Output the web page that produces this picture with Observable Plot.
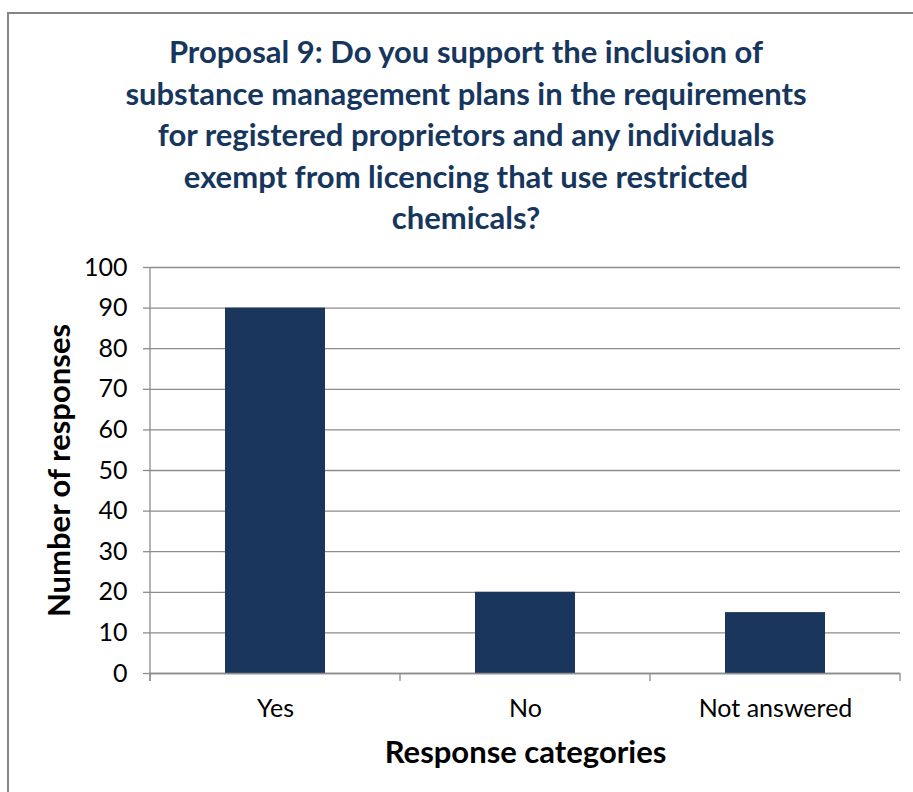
<!DOCTYPE html>
<html>
<head>
<meta charset="utf-8">
<script src="https://cdn.jsdelivr.net/npm/d3@7"></script>
<script src="https://cdn.jsdelivr.net/npm/@observablehq/plot@0.6"></script>
<style>
  html, body { margin: 0; padding: 0; background: #fff; }
  #page { position: relative; width: 913px; height: 792px; overflow: hidden; background: #fff; }
  #border { position: absolute; left: 7px; top: 12px; width: 1000px; height: 1000px;
            border-top: 2px solid #868686; border-left: 2px solid #868686; }
  #title { position: absolute; left: 16px; top: 31px; width: 900px; text-align: center;
           font-family: Lato, "Open Sans", sans-serif; font-weight: bold; font-size: 31px;
           line-height: 41.5px; color: #17365d; white-space: nowrap; }
  #chart { position: absolute; left: 0; top: 240px; }
</style>
</head>
<body>
<div id="page">
  <div id="border"></div>
  <div id="title">Proposal 9: Do you support the inclusion of<br>substance management plans in the requirements<br>for registered proprietors and any individuals<br>exempt from licencing that use restricted<br>chemicals?</div>
  <div id="chart"></div>
</div>
<script>
const categories = ["Yes", "No", "Not answered"];
const responses = [90, 20, 15];
const yTicks = [0, 10, 20, 30, 40, 50, 60, 70, 80, 90, 100];
const yLabel = "Number of responses";
const xLabel = "Response categories";

const data = categories.map((c, i) => ({category: c, responses: responses[i]}));
const gridColor = "#8c8c8c";

function axisFrame(index, scales, values, dims) {
  const {marginLeft, marginRight, marginTop, marginBottom, width, height} = dims;
  const x0 = marginLeft, x1 = width - marginRight, yb = height - marginBottom;
  const step = (x1 - x0) / categories.length;
  const g = d3.create("svg:g").attr("stroke", gridColor).attr("stroke-width", 1.3);
  g.append("line").attr("x1", x0).attr("x2", x0).attr("y1", marginTop).attr("y2", yb + 8);
  for (let i = 0; i <= categories.length; i++) {
    const x = x0 + i * step;
    g.append("line").attr("x1", x).attr("x2", x).attr("y1", yb).attr("y2", yb + 8);
  }
  return g.node();
}

const chart = Plot.plot({
  width: 913,
  height: 552,
  marginTop: 27,
  marginBottom: 119,
  marginLeft: 150,
  marginRight: 13,
  style: {fontFamily: "Lato, 'Open Sans', sans-serif", fontSize: "25px", color: "#000", background: "transparent", overflow: "visible"},
  x: {domain: categories, paddingInner: 0.6, paddingOuter: 0.3, label: null},
  y: {domain: [0, 100], label: null},
  marks: [
    Plot.gridY(yTicks, {stroke: gridColor, strokeOpacity: 1, strokeWidth: 1.3}),
    Plot.barY(data, {x: "category", y: "responses", fill: "#1b365d"}),
    Plot.ruleY([0], {stroke: gridColor, strokeWidth: 1.3}),
    Plot.axisY(yTicks, {tickSize: 7, tickPadding: 16, stroke: gridColor, strokeWidth: 1.3, fill: "#000", label: null, fontSize: 25}),
    Plot.axisX({tickSize: 0, tickPadding: 26, label: null, fill: "#000", fontSize: 25}),
    axisFrame,
    Plot.text([yLabel], {frameAnchor: "left", textAnchor: "middle", rotate: -90, dx: -90, fontWeight: "bold", fontSize: 31, fill: "#000"}),
    Plot.text([xLabel], {frameAnchor: "bottom", textAnchor: "middle", dy: 89, fontWeight: "bold", fontSize: 31, fill: "#000"})
  ]
});
document.getElementById("chart").appendChild(chart);
</script>
</body>
</html>
